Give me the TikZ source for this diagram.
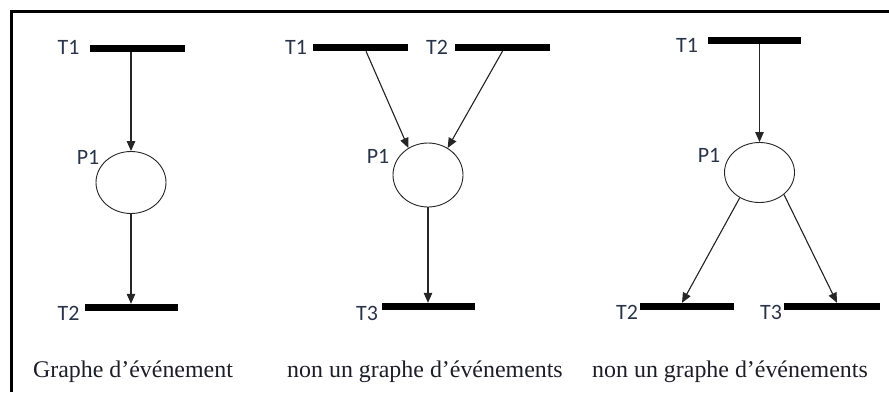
\documentclass[tikz,border=0pt]{standalone}
\usepackage{fontspec}
\usetikzlibrary{arrows.meta,shapes.geometric,calc}
\newfontfamily\labfont{Carlito}
\newfontfamily\capfont{Liberation Serif}
\definecolor{labcol}{RGB}{42,52,72}
\definecolor{capcol}{RGB}{30,30,40}
\tikzset{
  tbar/.style={fill=black, inner sep=0pt, minimum height=7bp, minimum width=#1},
  place/.style={ellipse, draw=black!85, line width=0.9bp, minimum width=70bp, minimum height=62bp, inner sep=0pt},
  conn/.style={-{Triangle[length=10bp,width=8.5bp]}, line width=1.1bp, draw=black!85, fill=black},
  lab/.style={font=\fontsize{22}{22}\selectfont\labfont, text=labcol, inner sep=0pt},
  captxt/.style={font=\fontsize{24}{24}\selectfont\capfont, text=capcol, inner sep=0pt, anchor=base}
}
\begin{document}
\begin{tikzpicture}[x=1bp,y=-1bp]
\useasboundingbox (0,0) rectangle (889,392);
\fill[white] (0,0) rectangle (889,392);
\draw[line width=3bp] (11,392) -- (11,11.5) -- (889,11.5);

% Panel 1
\node[tbar=95bp] (a1) at (137.5,48.5) {};
\node[place] (ap) at (131,182.5) {};
\node[tbar=93bp] (a2) at (131.5,307.5) {};
\node[lab] (la1) at (68.5,47) {T1};
\node[lab] (lap) at (88,157) {P1};
\node[lab] (la2) at (68.5,313) {T2};
\draw[conn] (ap |- a1.south) -- (ap.north);
\draw[conn] (ap.south) -- (ap |- a2.north);
\node[captxt] (ca) at (133,377) {Graphe d’événement};

% Panel 2
\node[tbar=95bp] (b1) at (360.5,47.5) {};
\node[tbar=95bp] (b2) at (502.5,47.5) {};
\node[place, minimum height=64bp] (bp) at (428,175) {};
\node[tbar=93bp] (b3) at (428.5,306.5) {};
\node[lab] (lb1) at (296,47) {T1};
\node[lab] (lb2) at (437,47) {T2};
\node[lab] (lbp) at (378,156) {P1};
\node[lab] (lb3) at (367,313) {T3};
\draw[conn] ([xshift=5.5bp]b1.south) -- (bp.126);
\draw[conn] (b2.south) -- (bp.54);
\draw[conn] (bp.south) -- (bp |- b3.north);
\node[captxt] (cb) at (425,377) {non un graphe d’événements};

% Panel 3
\node[tbar=93bp] (c1) at (754.5,40.5) {};
\node[place, minimum height=60bp] (cp) at (759.5,172.5) {};
\node[tbar=94bp] (c2) at (687,306.5) {};
\node[tbar=96bp] (c3) at (832,306.5) {};
\node[lab] (lc1) at (687,45) {T1};
\node[lab] (lcp) at (709,155) {P1};
\node[lab] (lc2) at (627,312) {T2};
\node[lab] (lc3) at (771,312) {T3};
\draw[conn] (cp |- c1.south) -- (cp.north);
\draw[conn] (cp.-128) -- ([xshift=-5bp]c2.north);
\draw[conn] (cp.-42) -- ([xshift=5bp]c3.north);
\node[captxt] (cc) at (730,377) {non un graphe d’événements};
\end{tikzpicture}
\end{document}
